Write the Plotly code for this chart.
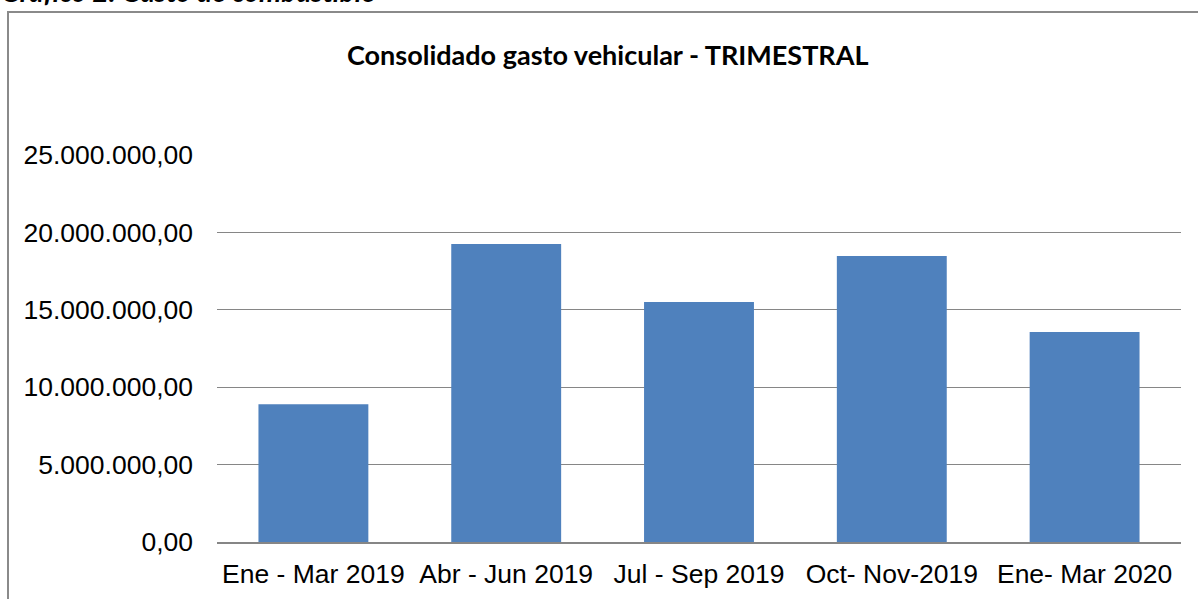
import plotly.graph_objects as go

categories = ["Ene - Mar 2019", "Abr - Jun 2019", "Jul - Sep 2019", "Oct- Nov-2019", "Ene- Mar 2020"]
values = [8900000, 19250000, 15500000, 18480000, 13570000]
tick_vals = [0, 5000000, 10000000, 15000000, 20000000, 25000000]

W, H = 1198, 599
L, R, T, B = 217, 17, 155, 57
pw = W - L - R
ph = H - T - B

fig = go.Figure(go.Bar(
    x=categories, y=values,
    marker=dict(color="#4F81BD", line=dict(width=0)),
))

def px_x(p):
    return (p - L) / pw

def px_y(p):
    return (H - B - p) / ph

fig.update_layout(
    width=W, height=H,
    margin=dict(l=L, r=R, t=T, b=B),
    paper_bgcolor="white", plot_bgcolor="white",
    separators=",.",
    bargap=0.43,
    showlegend=False,
    font=dict(family="Liberation Sans, Arial, sans-serif", size=26.5, color="black"),
    xaxis=dict(
        showgrid=False, showline=True, linecolor="#868686", linewidth=1.5,
        ticks="", ticklabelstandoff=7, automargin=False,
        tickfont=dict(size=26.5, family="Liberation Sans, Arial, sans-serif"),
    ),
    yaxis=dict(
        range=[0, 25000000], tickvals=tick_vals, tickformat=",.2f",
        showgrid=True, gridcolor="#868686", gridwidth=1.2,
        zeroline=False, showline=False, ticks="", automargin=False,
        ticklabelstandoff=23,
        tickfont=dict(size=26.5, family="Liberation Sans, Arial, sans-serif"),
    ),
    annotations=[
        dict(text="<b>Consolidado gasto vehicular - TRIMESTRAL</b>",
             xref="paper", yref="paper", x=px_x(607), y=px_y(54),
             xanchor="center", yanchor="middle", showarrow=False,
             font=dict(family="Lato, Carlito, sans-serif", size=27, color="black")),
        dict(text="<b><i>Gráfico 2. Gasto de combustible</i></b>",
             xref="paper", yref="paper", x=px_x(-1), y=px_y(10),
             xanchor="left", yanchor="bottom", showarrow=False,
             font=dict(family="Lato, Carlito, sans-serif", size=28, color="black")),
    ],
    shapes=[
        dict(type="rect", xref="paper", yref="paper",
             x0=px_x(8), y0=px_y(650), x1=px_x(1250), y1=px_y(12),
             line=dict(color="#8a8a8a", width=2), fillcolor="rgba(0,0,0,0)", layer="below"),
    ],
)

fig.write_html("out.html", config={"displayModeBar": False},
               post_script="document.body.style.margin='0px';")
